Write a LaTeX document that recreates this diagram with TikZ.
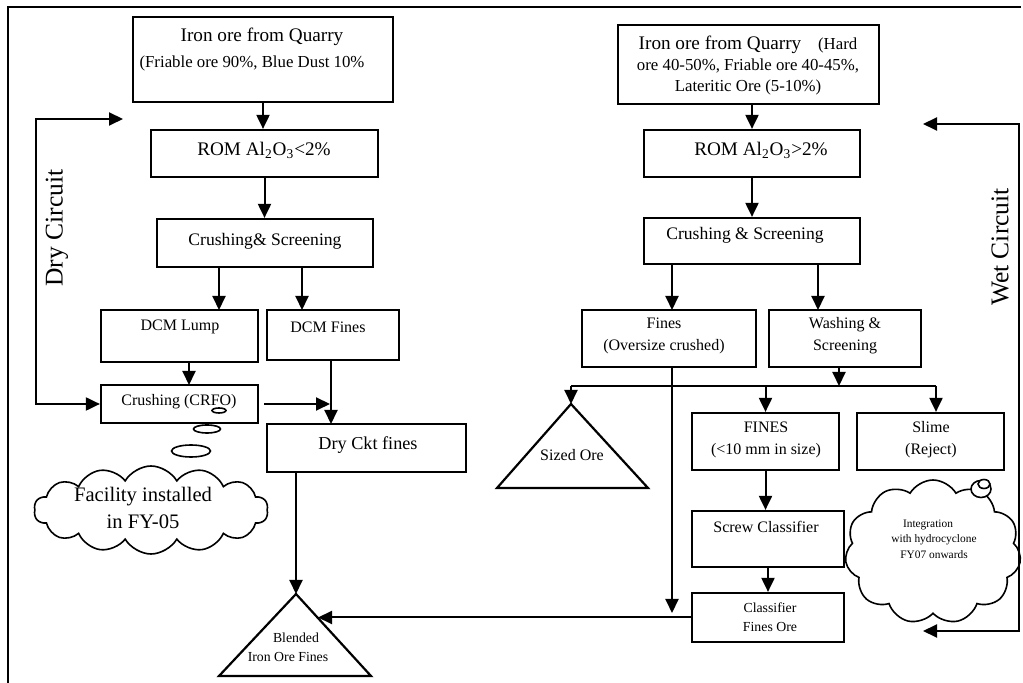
\documentclass[tikz,border=0pt]{standalone}
\usepackage{fontspec}
\setmainfont{Liberation Serif}
\usetikzlibrary{arrows.meta,shapes.geometric,shapes.symbols}
\begin{document}
\begin{tikzpicture}[x=0.5pt,y=-0.5pt,
  box/.style={draw, line width=1.1pt, rectangle, inner sep=0pt},
  ln/.style={line width=1pt},
  arr/.style={ln, -{Triangle[length=7pt,width=6.5pt]}},
  arrb/.style={ln, {Triangle[length=7pt,width=6.5pt]}-{Triangle[length=7pt,width=6.5pt]}},
  tx/.style={inner sep=0pt, align=center},
  fmain/.style={font=\fontsize{9.6}{11}\selectfont},
  fcs/.style={font=\fontsize{8.8}{10.5}\selectfont},
  fsub/.style={font=\fontsize{8.4}{10.5}\selectfont},
  fbox/.style={font=\fontsize{8}{11}\selectfont},
  fdry/.style={font=\fontsize{9.1}{11}\selectfont},
  fcirc/.style={font=\fontsize{12.75}{14}\selectfont},
  fcloud/.style={font=\fontsize{10.3}{13.5}\selectfont},
  fsmall/.style={font=\fontsize{6.9}{9.3}\selectfont},
  ftiny/.style={font=\fontsize{5.7}{7.75}\selectfont},
  bubble/.style={draw, ellipse, line width=0.8pt, inner sep=0pt},
]
\useasboundingbox (0,0) rectangle (1023,683);
% frame
\draw[line width=1.1pt] (8,683) -- (8,7) -- (1021,7);

% ---------------- left column ----------------
\node[box, minimum width=130pt, minimum height=42.5pt] (srcL) at (263,59.5) {};
\node[tx, fmain] at (262,37) {Iron ore from Quarry};
\node[tx, fsub] at (252,63) {(Friable ore 90\%, Blue Dust 10\%};

\node[box, minimum width=113.5pt, minimum height=23.5pt] (romL) at (264.5,153.5) {};
\node[tx, fmain] at (264,150) {ROM Al\textsubscript{2}O\textsubscript{3}<2\%};

\node[box, minimum width=108pt, minimum height=24pt] (crsL) at (265,243) {};
\node[tx, fcs] at (265,241) {Crushing\& Screening};

\node[box, minimum width=78.5pt, minimum height=26pt] (lump) at (179.5,336) {};
\node[tx, fbox] at (180,327) {DCM Lump};

\node[box, minimum width=66pt, minimum height=25pt] (dfines) at (333,335) {};
\node[tx, fbox] at (328,327) {DCM Fines};

\node[box, minimum width=78.5pt, minimum height=19pt] (crfo) at (179.5,404) {};
\node[tx, fbox] at (179,402) {Crushing (CRFO)};

\node[box, minimum width=99.5pt, minimum height=24pt] (dryckt) at (366.5,448) {};
\node[tx, fdry] at (368,445) {Dry Ckt fines};

\node[tx, fcirc, rotate=90] at (57,228) {Dry Circuit};

% thought bubbles and cloud (left)
\node[bubble, minimum width=7pt, minimum height=2.5pt] (b1) at (219,410.5) {};
\node[bubble, minimum width=13.5pt, minimum height=4pt] (b2) at (207,429) {};
\node[bubble, minimum width=19.5pt, minimum height=6pt] (b3) at (191,451) {};
\node[cloud, draw, line width=0.8pt, cloud puffs=14, cloud puff arc=120, cloud ignores aspect,
      minimum width=117pt, minimum height=44pt, inner sep=0pt] (cloudL) at (151,510) {};
\node[tx, fcloud] at (143,508) {Facility installed\\in FY-05};

% blended triangle
\coordinate (blendTop) at (296,594);
\draw[line width=1.1pt] (blendTop) -- (371,676) -- (219,676) -- cycle;
\node[tx, fsmall] at (288,647) {\hspace*{8pt}Blended\\Iron Ore Fines};

% left connectors
\draw[arr] (srcL.south) -- (srcL.south |- romL.north);
\draw[arr] (romL.south) -- (romL.south |- crsL.north);
\coordinate (lumpIn) at (219,310);
\draw[arr] (lumpIn |- crsL.south) -- (lumpIn);
\coordinate (dfIn) at (302,310);
\draw[arr] (dfIn |- crsL.south) -- (dfIn);
\coordinate (crfoIn) at (189,385);
\draw[arr] (crfoIn |- lump.south) -- (crfoIn);
\coordinate (dryIn) at (331,424);
\draw[arr] (dryIn |- dfines.south) -- (dryIn);
\coordinate (crfoOut) at (264,404);
\coordinate (crfoTip) at (330,404);
\draw[arr] (crfoOut) -- (crfoTip);
\coordinate (dryTop) at (123,119);
\coordinate (dryC1) at (36,119);
\coordinate (dryC2) at (36,404);
\draw[arrb] (dryTop) -- (dryC1) -- (dryC2) -- (crfo.west);
\draw[arr] (blendTop |- dryckt.south) -- (blendTop);

% ---------------- right column ----------------
\node[box, minimum width=130.5pt, minimum height=39.5pt] (srcR) at (748.5,64.5) {};
\node[tx, fsub] at (748,66) {{\fontsize{9.6}{11}\selectfont Iron ore from Quarry}\quad(Hard\\ore 40-50\%, Friable ore 40-45\%,\\Lateritic Ore (5-10\%)};

\node[box, minimum width=108pt, minimum height=23.5pt] (romR) at (752,153.5) {};
\node[tx, fmain] at (761,150) {ROM Al\textsubscript{2}O\textsubscript{3}>2\%};

\node[box, minimum width=108pt, minimum height=23pt] (crsR) at (752,241) {};
\node[tx, fcs] at (745,235) {Crushing \& Screening};

\node[box, minimum width=87pt, minimum height=28.5pt] (finesR) at (669,338.5) {};
\node[tx, fbox] at (664,336) {Fines\\(Oversize crushed)};

\node[box, minimum width=76pt, minimum height=28.5pt] (wash) at (845,338.5) {};
\node[tx, fbox] at (845,336) {Washing \&\\Screening};

\coordinate (sizedTop) at (571,404);
\draw[line width=1.1pt] (sizedTop) -- (648,488) -- (497,488) -- cycle;
\node[tx, fbox] at (572,455) {Sized Ore};

\node[box, minimum width=73.5pt, minimum height=28.5pt] (fines2) at (765.5,441.5) {};
\node[tx, fbox] at (766,440) {FINES\\(<10 mm in size)};

\node[box, minimum width=73.5pt, minimum height=28.5pt] (slime) at (930.5,441.5) {};
\node[tx, fbox] at (931,440) {Slime\\(Reject)};

\node[box, minimum width=76pt, minimum height=28pt] (screw) at (768,539) {};
\node[tx, fbox] at (766,527) {Screw Classifier};

\node[box, minimum width=76pt, minimum height=24.5pt] (cfo) at (768,617.5) {};
\node[tx, fsmall] at (770,617) {Classifier\\Fines Ore};

\node[tx, fcirc, rotate=90] at (1000,247) {Wet Circuit};

% right cloud
\node[cloud, draw, line width=0.8pt, cloud puffs=11, cloud puff arc=120, cloud ignores aspect,
      minimum width=88pt, minimum height=72pt, inner sep=0pt] (cloudR) at (933,552) {};
\node[bubble, fill=white, minimum width=10pt, minimum height=8.5pt] (b4) at (981,489) {};
\node[bubble, fill=white, minimum width=6pt, minimum height=4.5pt] (b5) at (984,484) {};
\node[tx, ftiny] at (928,539) {Integration\\\hspace*{6pt}with hydrocyclone\\\hspace*{6pt}FY07 onwards};

% right connectors
\draw[arr] (romR.north |- srcR.south) -- (romR.north);
\draw[arr] (romR.south) -- (romR.south |- crsR.north);
\coordinate (finIn) at (672,310);
\draw[arr] (finIn |- crsR.south) -- (finIn);
\coordinate (washIn) at (818,310);
\draw[arr] (washIn |- crsR.south) -- (washIn);
\coordinate (split) at (839,386);
\draw[arr] (split |- wash.south) -- (split);
\coordinate (splitL) at (571,386);
\coordinate (splitR) at (936,386);
\draw[ln] (splitL) -- (splitR);
\draw[arr] (splitL) -- (sizedTop);
\draw[arr] (fines2.north |- splitL) -- (fines2.north);
\draw[arr] (splitR) -- (splitR |- slime.north);
\draw[arr] (fines2.south) -- (fines2.south |- screw.north);
\draw[arr] (screw.south) -- (screw.south |- cfo.north);
\coordinate (finesEnd) at (672,613);
\draw[arr] (finesEnd |- finesR.south) -- (finesEnd);
\coordinate (blendR) at (318,617.5);
\draw[arr] (cfo.west) -- (blendR);
\coordinate (wetTop) at (923,124);
\coordinate (wetC1) at (1019,124);
\coordinate (wetC2) at (1019,631);
\coordinate (wetBot) at (923,631);
\draw[arrb] (wetTop) -- (wetC1) -- (wetC2) -- (wetBot);
\end{tikzpicture}
\end{document}
